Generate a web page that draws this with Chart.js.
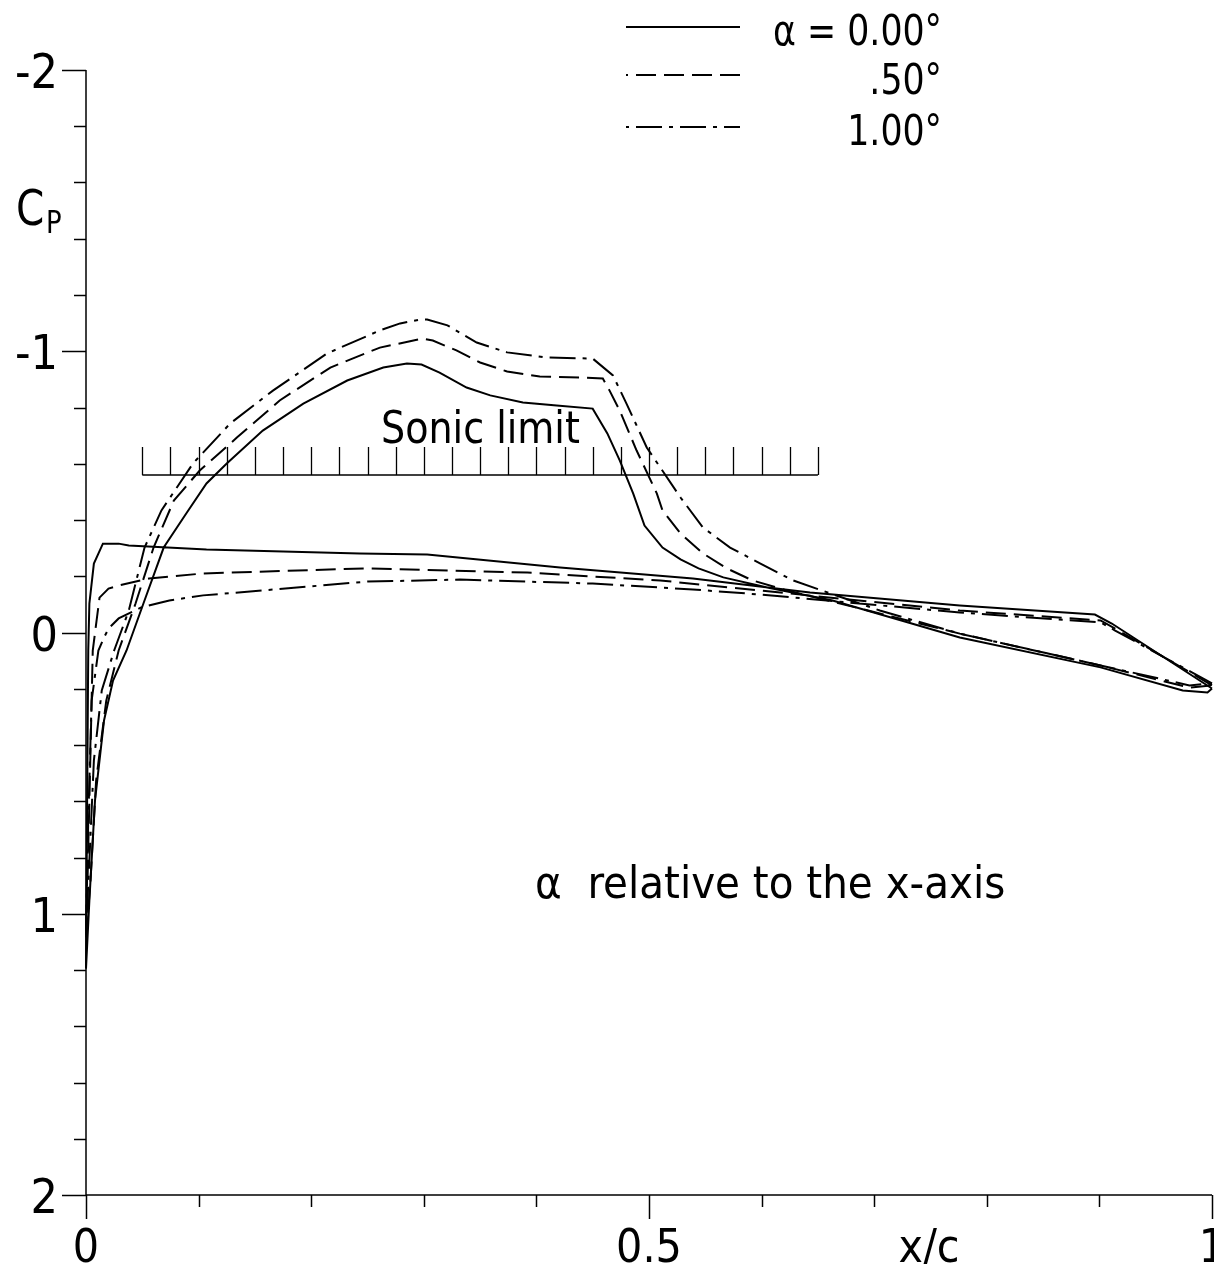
<!DOCTYPE html>
<html>
<head>
<meta charset="utf-8">
<script src="https://cdn.jsdelivr.net/npm/chart.js@4/dist/chart.umd.min.js"></script>
<style>
  html, body { margin: 0; padding: 0; background: #fff; }
  #wrap { width: 1214px; height: 1264px; }
</style>
</head>
<body>
<div id="wrap"><canvas id="cpChart" width="1214" height="1264"></canvas></div>
<script>
// --- DATA (x/c and Cp; each loop goes TE -> LE on the lower side, then LE -> TE on the upper side) ---
const seriesLabels = ['α = 0.00°', '.50°', '1.00°'];

const a000X = [1.000, 0.911, 0.896, 0.776, 0.643, 0.539, 0.421, 0.303, 0.243, 0.107, 0.038, 0.029, 0.015, 0.007, 0.003, 0.002, 0.001, 0.000,
               0.003, 0.008, 0.016, 0.024, 0.036, 0.051, 0.069, 0.089, 0.107, 0.125, 0.157, 0.193, 0.232, 0.264, 0.285, 0.298, 0.314, 0.338, 0.359, 0.388, 0.418, 0.450,
               0.463, 0.474, 0.486, 0.496, 0.512, 0.528, 0.544, 0.566, 0.605, 0.663, 0.776, 0.901, 0.974, 0.996, 1.000];
const a000Cp = [0.199, -0.032, -0.064, -0.096, -0.142, -0.192, -0.231, -0.277, -0.281, -0.295, -0.309, -0.316, -0.316, -0.245, -0.103, 0.064, 0.597, 1.195,
               0.953, 0.597, 0.313, 0.171, 0.064, -0.103, -0.302, -0.423, -0.530, -0.601, -0.718, -0.814, -0.896, -0.942, -0.956, -0.953, -0.924, -0.871, -0.843, -0.818, -0.807, -0.796,
               -0.708, -0.612, -0.494, -0.380, -0.302, -0.260, -0.228, -0.196, -0.160, -0.114, 0.018, 0.124, 0.206, 0.213, 0.199];

const a050X = [1.000, 0.914, 0.901, 0.776, 0.599, 0.510, 0.392, 0.250, 0.104, 0.056, 0.029, 0.020, 0.012, 0.006, 0.003, 0.000,
               0.004, 0.009, 0.018, 0.029, 0.044, 0.060, 0.078, 0.101, 0.134, 0.172, 0.217, 0.261, 0.299, 0.308, 0.329, 0.350, 0.374, 0.403, 0.439, 0.459,
               0.465, 0.474, 0.489, 0.507, 0.512, 0.528, 0.548, 0.569, 0.592, 0.623, 0.652, 0.776, 0.901, 0.980, 1.000];
const a050Cp = [0.188, -0.014, -0.043, -0.078, -0.149, -0.185, -0.213, -0.228, -0.210, -0.192, -0.167, -0.156, -0.124, 0.064, 0.597, 1.095,
               0.882, 0.526, 0.242, 0.064, -0.103, -0.302, -0.469, -0.576, -0.693, -0.825, -0.942, -1.013, -1.045, -1.038, -1.003, -0.960, -0.928, -0.910, -0.907, -0.903,
               -0.860, -0.789, -0.647, -0.494, -0.434, -0.352, -0.281, -0.228, -0.185, -0.149, -0.121, 0.004, 0.117, 0.196, 0.188];

const a100X = [1.000, 0.914, 0.901, 0.776, 0.599, 0.539, 0.450, 0.332, 0.250, 0.104, 0.074, 0.049, 0.029, 0.020, 0.016, 0.011, 0.005, 0.002, 0.000,
               0.003, 0.007, 0.014, 0.025, 0.038, 0.052, 0.067, 0.095, 0.128, 0.166, 0.214, 0.261, 0.279, 0.297, 0.303, 0.321, 0.347, 0.374, 0.409, 0.450,
               0.468, 0.480, 0.498, 0.528, 0.548, 0.572, 0.599, 0.628, 0.661, 0.705, 0.776, 0.901, 0.980, 1.000];
const a100Cp = [0.181, -0.007, -0.036, -0.071, -0.135, -0.153, -0.174, -0.188, -0.181, -0.132, -0.114, -0.089, -0.050, -0.014, 0.018, 0.064, 0.242, 0.668, 1.060,
               0.811, 0.455, 0.206, 0.064, -0.078, -0.302, -0.434, -0.601, -0.743, -0.860, -0.992, -1.074, -1.099, -1.113, -1.113, -1.092, -1.031, -0.996, -0.978, -0.974,
               -0.914, -0.814, -0.658, -0.480, -0.373, -0.302, -0.245, -0.185, -0.139, -0.078, 0.004, 0.117, 0.188, 0.181];

const yMajorTicks = [-2, -1, 0, 1, 2];
const yTickLabels = ['-2', '-1', '0', '1', '2'];
const xMajorTicks = [0, 0.5, 1];
const xTickLabels = ['0', '0.5', '1'];
const sonicCp = -0.56;
const sonicFrom = 0.05;
const sonicTo = 0.65;

const dashes = [[], [20, 8], [26, 7, 4, 7]];
const FONT = '"DejaVu Sans Condensed", "DejaVu Sans", sans-serif';

function toPoints(xs, ys) {
    return xs.map((x, i) => ({ x: x, y: ys[i] }));
}

// text squeezed horizontally a bit, the original lettering is narrow
function drawText(ctx, text, x, y, size, align, squeeze) {
    ctx.save();
    ctx.font = size + 'px ' + FONT;
    ctx.textAlign = align;
    ctx.textBaseline = 'alphabetic';
    ctx.translate(x, y);
    ctx.scale(squeeze || 1, 1);
    ctx.fillText(text, 0, 0);
    ctx.restore();
}

// --- AXES, TICKS, LABELS, SONIC BAR AND LEGEND ---
const decorPlugin = {
    id: 'decor',
    afterDatasetsDraw(chart) {
        const ctx = chart.ctx;
        const xs = chart.scales.x;
        const ys = chart.scales.y;
        const area = chart.chartArea;

        ctx.save();
        ctx.strokeStyle = '#000';
        ctx.fillStyle = '#000';
        ctx.lineWidth = 1.5;
        ctx.setLineDash([]);

        // axis lines
        ctx.beginPath();
        ctx.moveTo(area.left, area.top);
        ctx.lineTo(area.left, area.bottom);
        ctx.lineTo(area.right, area.bottom);
        ctx.stroke();

        // y ticks every 0.2, major at integers
        for (let i = 0; i <= 20; i++) {
            const v = -2 + i * 0.2;
            const py = Math.round(ys.getPixelForValue(v)) + 0.5;
            const len = (i % 5 === 0) ? 24 : 12;
            ctx.beginPath();
            ctx.moveTo(area.left - len, py);
            ctx.lineTo(area.left, py);
            ctx.stroke();
        }
        // x ticks every 0.1, major at 0, 0.5, 1
        for (let i = 0; i <= 10; i++) {
            const v = i * 0.1;
            const px = Math.round(xs.getPixelForValue(v)) + 0.5;
            const len = (i % 5 === 0) ? 24 : 12;
            ctx.beginPath();
            ctx.moveTo(px, area.bottom);
            ctx.lineTo(px, area.bottom + len);
            ctx.stroke();
        }

        // tick labels
        yMajorTicks.forEach((v, i) => {
            drawText(ctx, yTickLabels[i], 58, ys.getPixelForValue(v) + 18, 48, 'right', 1);
        });
        xMajorTicks.forEach((v, i) => {
            drawText(ctx, xTickLabels[i], xs.getPixelForValue(v), 1262, 46, 'center', 1);
        });
        drawText(ctx, 'x/c', 929, 1262, 46, 'center', 1);

        // Cp axis title
        drawText(ctx, 'C', 16, 225, 50, 'left', 0.9);
        drawText(ctx, 'P', 46, 233, 32, 'left', 0.9);

        // sonic limit comb
        const sy = ys.getPixelForValue(sonicCp);
        const sTop = ys.getPixelForValue(sonicCp - 0.1);
        ctx.lineWidth = 1.3;
        ctx.beginPath();
        ctx.moveTo(xs.getPixelForValue(sonicFrom), sy);
        ctx.lineTo(xs.getPixelForValue(sonicTo), sy);
        const steps = Math.round((sonicTo - sonicFrom) / 0.025);
        for (let i = 0; i <= steps; i++) {
            const px = Math.round(xs.getPixelForValue(sonicFrom + i * 0.025)) + 0.5;
            ctx.moveTo(px, sy);
            ctx.lineTo(px, sTop);
        }
        ctx.stroke();
        drawText(ctx, 'Sonic limit', 381, 443, 45, 'left', 0.94);

        // annotation
        drawText(ctx, 'α  relative to the x-axis', 535, 898, 45, 'left', 1);

        // legend
        const legendY = [27, 75, 127];
        const textY = [45, 94, 145];
        ctx.lineWidth = 2;
        for (let i = 0; i < 3; i++) {
            ctx.setLineDash(dashes[i]);
            ctx.lineDashOffset = -10;
            ctx.beginPath();
            ctx.moveTo(626, legendY[i]);
            ctx.lineTo(740, legendY[i]);
            ctx.stroke();
            drawText(ctx, seriesLabels[i], 942, textY[i], 42, 'right', 0.92);
        }
        ctx.restore();
    }
};

document.addEventListener('DOMContentLoaded', function () {
    const ctx = document.getElementById('cpChart').getContext('2d');
    const allX = [a000X, a050X, a100X];
    const allCp = [a000Cp, a050Cp, a100Cp];

    const datasets = seriesLabels.map((label, i) => ({
        label: label,
        data: toPoints(allX[i], allCp[i]),
        showLine: true,
        borderColor: '#000',
        borderWidth: 2,
        borderDash: dashes[i],
        pointRadius: 0,
        tension: 0,
        fill: false,
        clip: 6
    }));

    new Chart(ctx, {
        type: 'scatter',
        data: { datasets: datasets },
        options: {
            responsive: false,
            animation: false,
            devicePixelRatio: 1,
            layout: { padding: { left: 86, top: 70, right: 2, bottom: 69 } },
            plugins: {
                legend: { display: false },
                tooltip: { enabled: false }
            },
            scales: {
                x: { type: 'linear', min: 0, max: 1, display: false },
                y: { type: 'linear', min: -2, max: 2, reverse: true, display: false }
            }
        },
        plugins: [decorPlugin]
    });
});
</script>
</body>
</html>
